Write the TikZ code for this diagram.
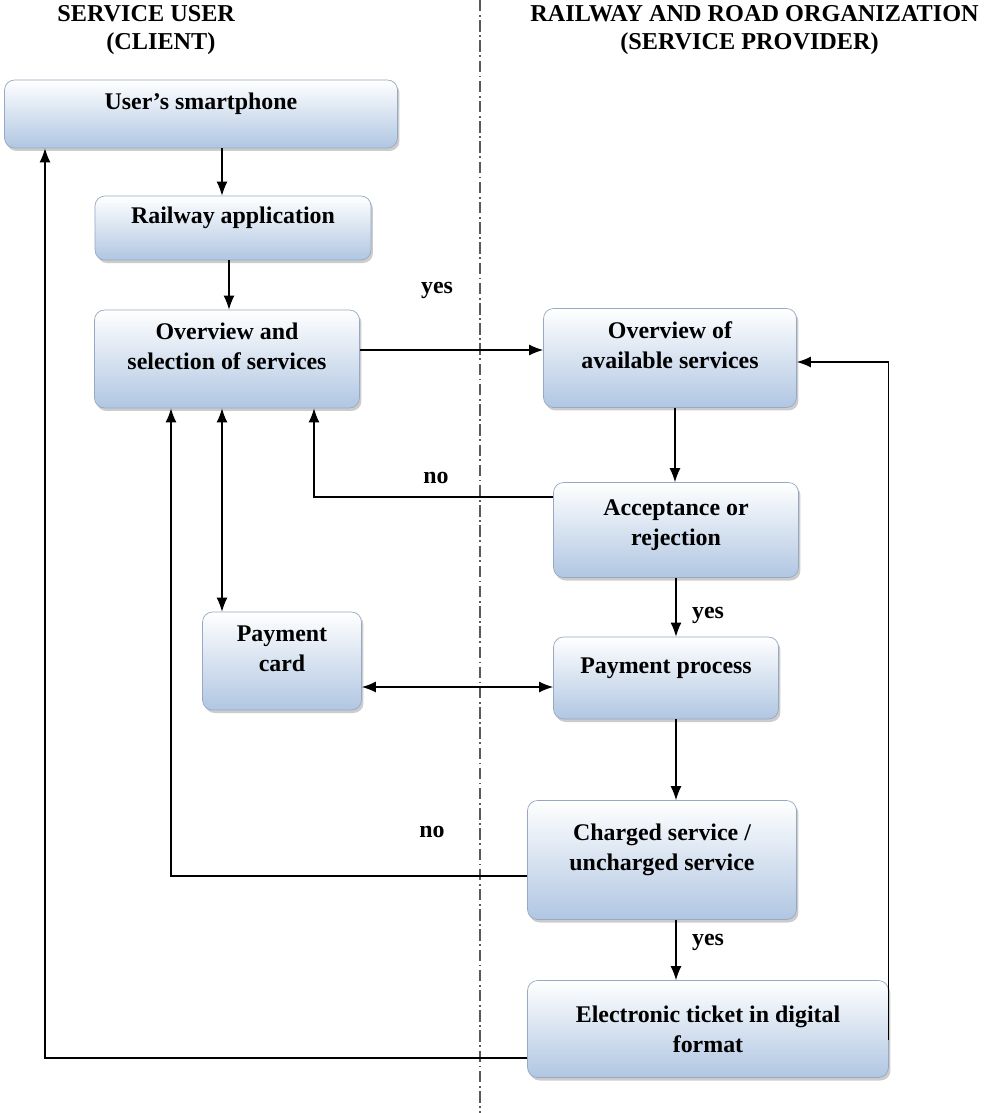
\documentclass[tikz,border=0pt]{standalone}
\usepackage{fontspec}
\setmainfont{Liberation Serif}
\usetikzlibrary{arrows.meta,shadows}
\definecolor{boxblue}{RGB}{176,198,226}
\definecolor{boxline}{RGB}{150,168,196}

\begin{document}
\begin{tikzpicture}
[x=0.02cm,y=-0.02cm,%
  every node/.style={font=\fontsize{13.6}{17}\selectfont\bfseries,inner sep=0pt},%
  box/.style={draw=boxline,thin,rounded corners=0.2cm,top color=white,bottom color=boxblue,%
    align=center,drop shadow={shadow xshift=0.04cm,shadow yshift=-0.06cm,opacity=0.4}},%
  lift/.style={execute at end node={\rule[-#1]{0pt}{0pt}}},%
  lift/.default=0.5cm,%
  arr/.style={-{Latex[length=2.8mm,width=2.2mm]},line width=0.75pt},%
  dbl/.style={{Latex[length=2.8mm,width=2.2mm]}-{Latex[length=2.8mm,width=2.2mm]},line width=0.75pt}]
\useasboundingbox (0,0) rectangle (984,1113);
\draw[gray!70!black,line width=0.8pt,dash pattern=on 6.5pt off 2pt on 1pt off 2pt] (480,0) -- (480,1113);
\node[anchor=north west,align=left,font=\fontsize{13.8}{16}\selectfont\bfseries] (hdrL) at (57,5) {SERVICE USER\\\hspace*{0.98cm}(CLIENT)};
\node[anchor=north west,align=left,font=\fontsize{13.8}{16}\selectfont\bfseries] (hdrR) at (530,5) {RAILWAY AND ROAD ORGANIZATION\\\hspace*{1.8cm}(SERVICE PROVIDER)};
\node[box,lift,minimum width=7.86cm,minimum height=1.36cm] (phone) at (201,114) {User's smartphone};
\node[box,lift,minimum width=5.52cm,minimum height=1.28cm] (app) at (233,228) {Railway application};
\node[box,lift,minimum width=5.3cm,minimum height=1.96cm] (select) at (227,359) {Overview and\\selection of services};
\node[box,lift,minimum width=5.06cm,minimum height=1.98cm] (avail) at (670,358) {Overview of\\available services};
\node[box,lift=0.3cm,minimum width=4.9cm,minimum height=1.9cm] (accept) at (676,530) {Acceptance or\\rejection};
\node[box,lift,minimum width=3.18cm,minimum height=1.96cm] (card) at (282,661) {Payment\\card};
\node[box,lift,minimum width=4.5cm,minimum height=1.64cm] (pay) at (666,678) {Payment process};
\node[box,lift,minimum width=5.38cm,minimum height=2.38cm] (charge) at (662,860) {Charged service /\\uncharged service};
\node[box,minimum width=7.22cm,minimum height=1.94cm] (ticket) at (708,1029) {Electronic ticket in digital\\format};
\node (yes1) at (437,290) {yes};
\node (no1) at (436,478) {no};
\node (yes2) at (708,615) {yes};
\node (no2) at (432,832) {no};
\node (yes3) at (708,942) {yes};
\draw[arr] (222,0 |- phone.south) -- (222,0 |- app.north);
\draw[arr] (229,0 |- app.south) -- (229,0 |- select.north);
\draw[arr] (select.east |- 0,350) -- (avail.west |- 0,350);
\draw[arr] (675,0 |- avail.south) -- (675,0 |- accept.north);
\draw[arr] (accept.west |- 0,497) -| (314,0 |- select.south);
\draw[arr] (676,0 |- accept.south) -- (676,0 |- pay.north);
\draw[dbl] (222,0 |- select.south) -- (222,0 |- card.north);
\draw[dbl] (card.east |- 0,687) -- (pay.west |- 0,687);
\draw[arr] (676,0 |- pay.south) -- (676,0 |- charge.north);
\draw[arr] (charge.west |- 0,876) -| (171,0 |- select.south);
\draw[arr] (676,0 |- charge.south) -- (676,0 |- ticket.north);
\draw[arr] (ticket.west |- 0,1058) -| (45,0 |- phone.south);
\draw[arr] (ticket.east |- 0,1040) |- (avail.east |- 0,362);
\end{tikzpicture}
\end{document}
